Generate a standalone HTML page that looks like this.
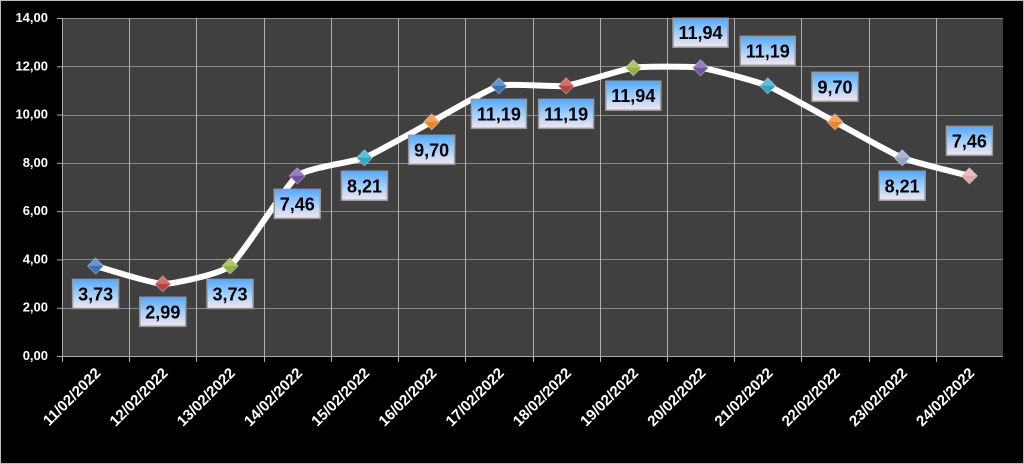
<!DOCTYPE html>
<html><head><meta charset="utf-8"><style>
body{margin:0;background:#000;}
svg{display:block;font-family:"Liberation Sans",sans-serif;}
</style></head><body>
<svg width="1024" height="464" viewBox="0 0 1024 464">
<defs>
<linearGradient id="lb" x1="0" y1="0" x2="0" y2="1">
<stop offset="0" stop-color="#55a8ff"/><stop offset="0.5" stop-color="#9fcfff"/><stop offset="1" stop-color="#f4e6f0"/>
</linearGradient>
</defs>
<rect x="0.5" y="0.5" width="1023" height="463" fill="#000" stroke="#bbb"/>
<rect x="62" y="18" width="941" height="338" fill="#404040"/>
<g stroke="#8a8a8a" stroke-width="1">
<line x1="62" y1="18.5" x2="1003" y2="18.5"/><line x1="62" y1="66.5" x2="1003" y2="66.5"/>
<line x1="62" y1="115.5" x2="1003" y2="115.5"/><line x1="62" y1="163.5" x2="1003" y2="163.5"/>
<line x1="62" y1="211.5" x2="1003" y2="211.5"/><line x1="62" y1="259.5" x2="1003" y2="259.5"/>
<line x1="62" y1="308.5" x2="1003" y2="308.5"/>
</g>
<g stroke="#b0b0b0" stroke-width="1" id="vg"></g>
<line x1="62" y1="356.5" x2="1003" y2="356.5" stroke="#aaa"/>
<line x1="62.5" y1="18" x2="62.5" y2="356" stroke="#aaa"/>
<g id="yl" fill="#fff" font-size="13" font-weight="bold" text-anchor="end"></g>
<g id="xl" fill="#fff" font-size="15" font-weight="bold" text-anchor="end"></g>
<path id="ln" fill="none" stroke="#fff" stroke-width="6" stroke-linejoin="round" stroke-linecap="round"/>
<g id="mk"></g>
<g id="lbl" font-size="18" font-weight="bold" text-anchor="middle" fill="#000"></g>
</svg>
<script>
var ns="http://www.w3.org/2000/svg";
function el(t,a,p,txt){var e=document.createElementNS(ns,t);for(var k in a)e.setAttribute(k,a[k]);if(txt)e.textContent=txt;document.getElementById(p).appendChild(e);return e;}
var v=[3.73,2.99,3.73,7.46,8.21,9.70,11.19,11.19,11.94,11.94,11.19,9.70,8.21,7.46];
var s=["3,73","2,99","3,73","7,46","8,21","9,70","11,19","11,19","11,94","11,94","11,19","9,70","8,21","7,46"];
var above=[0,0,0,0,0,0,0,0,0,1,1,1,0,1];
var cols=["#3a70b8","#c0403c","#90b440","#7452a4","#2ea6c8","#f08424","#3a70b8","#c0403c","#90b440","#7452a4","#2ea6c8","#f08424","#8ea2c4","#e0a8a8"];
var w=941/14;function X(i){return 62+w/2+w*i;}function Y(val){return 356-val*338/14;}
for(var k=1;k<14;k++){var gx=Math.round(62+w*k)+0.5;el("line",{x1:gx,y1:18,x2:gx,y2:362},"vg");}
el("line",{x1:62.5,y1:356,x2:62.5,y2:362},"vg");
for(var j=0;j<=7;j++){el("text",{x:48,y:Y(j*2)+4},"yl",(j*2)+",00");el("line",{x1:57,y1:Y(j*2)+0.5,x2:62,y2:Y(j*2)+0.5,stroke:"#aaa"},"yl");}
var dates=[];for(var i=0;i<14;i++){var d=11+i;dates.push(d+"/02/2022");}
for(var i=0;i<14;i++){var x=X(i)+6,y=374;el("text",{x:x,y:y,transform:"rotate(-45 "+x+" "+y+")"},"xl",dates[i]);}
var P=v.map(function(a,i){return [X(i),Y(a)];});
var d="M"+P[0][0]+","+P[0][1];
for(var i=0;i<P.length-1;i++){var p0=P[Math.max(i-1,0)],p1=P[i],p2=P[i+1],p3=P[Math.min(i+2,P.length-1)];var t=0.08;
d+=" C"+(p1[0]+(p2[0]-p0[0])*t)+","+(p1[1]+(p2[1]-p0[1])*t)+" "+(p2[0]-(p3[0]-p1[0])*t)+","+(p2[1]-(p3[1]-p1[1])*t)+" "+p2[0]+","+p2[1];}
document.getElementById("ln").setAttribute("d",d);
for(var i=0;i<14;i++){var x=P[i][0],y=P[i][1],r=8;
el("polygon",{points:(x)+","+(y-r)+" "+(x+r)+","+y+" "+x+","+(y+r)+" "+(x-r)+","+y,fill:cols[i],stroke:"#fff","stroke-opacity":"0.35","stroke-width":1},"mk");
el("polygon",{points:(x)+","+(y-r)+" "+(x+r)+","+y+" "+x+","+y+" "+(x-r)+","+y,fill:"#fff","fill-opacity":"0.25"},"mk");
var bw=s[i].length>4?55:46,bh=29,cy=above[i]?y-35:y+28;
el("rect",{x:x-bw/2,y:cy-bh/2,width:bw,height:bh,fill:"url(#lb)",stroke:"#999","stroke-width":1.5},"lbl");
el("text",{x:x,y:cy+6.5},"lbl",s[i]);}
</script>
</body></html>
